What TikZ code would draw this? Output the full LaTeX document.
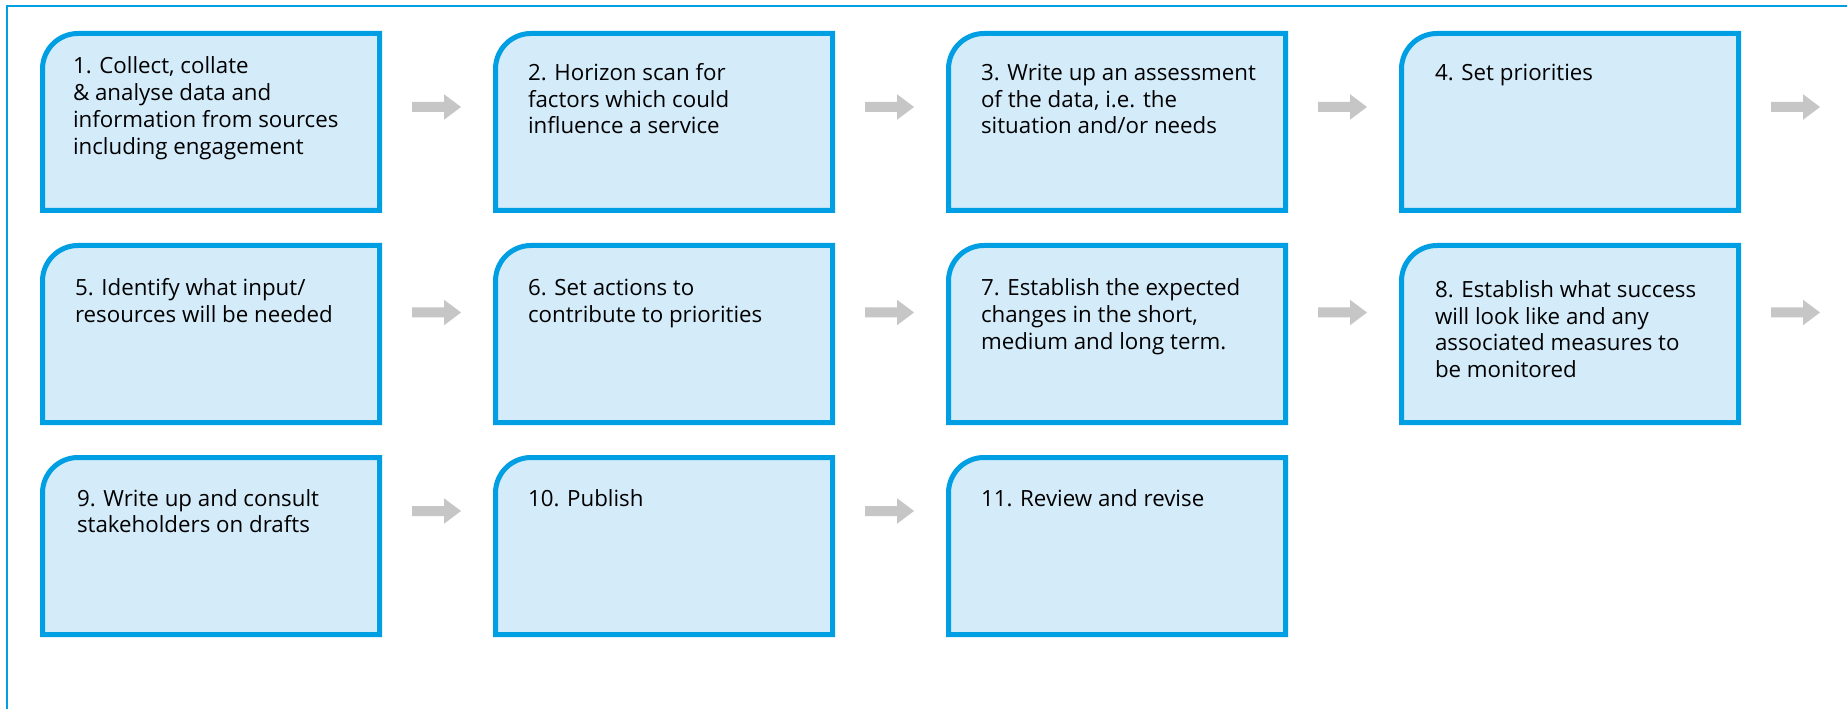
\documentclass[tikz,border=0pt]{standalone}
\usepackage{fontspec}
\setmainfont{Open Sans}
\definecolor{bblue}{HTML}{009FE3}
\definecolor{bfill}{HTML}{D4EBFA}
\definecolor{agrey}{HTML}{C6C6C6}
\begin{document}
\begin{tikzpicture}[x=0.5pt,y=0.5pt,
  boxnode/.style={draw=none,inner sep=0pt,outer sep=0pt,minimum width=168.5pt,minimum height=88.5pt},
  boxline/.style={draw=bblue,fill=bfill,line width=2.5pt},
  frameline/.style={draw=bblue,line width=1pt},
  arrowc/.style={fill=agrey},
  txt/.style={inner sep=0pt,outer sep=0pt,anchor=base west,font=\fontsize{11.15}{13.35}\selectfont}]
\useasboundingbox (0,0) rectangle (1847,708);
\clip (0,0) rectangle (1847,708);
\fill[white] (0,0) rectangle (1847,708);
\draw[frameline] (7,-50) -- (7,702) -- (1900,702);

% boxes
\foreach \n/\x/\y in {1/211/586,2/664/586,3/1117/586,4/1570/586,
                      5/211/374,6/664/374,7/1117/374,8/1570/374,
                      9/211/162,10/664/162,11/1117/162}{
  \node[boxnode] (b\n) at (\x,\y) {};
  \draw[boxline] (b\n.south west) -- ([yshift=-17.75pt]b\n.north west)
     arc[start angle=180,end angle=90,radius=17.75pt] -- (b\n.north east)
     -- (b\n.south east) -- cycle;
}

% texts
\newcommand\bt[1]{\parbox[t]{300pt}{\raggedright #1}}
\node[txt] (t1) at ([xshift=15.25pt,yshift=-20.25pt]b1.north west) {\bt{1. Collect, collate\\\& analyse data and\\information from sources\\including engagement}};
\node[txt] (t2) at ([xshift=16.25pt,yshift=-23.5pt]b2.north west) {\bt{2. Horizon scan for\\factors which could\\influence a service}};
\node[txt] (t3) at ([xshift=16.25pt,yshift=-23.5pt]b3.north west) {\bt{3. Write up an assessment\\of the data, i.e. the\\situation and/or needs}};
\node[txt] (t4) at ([xshift=16.75pt,yshift=-23.5pt]b4.north west) {\bt{4. Set priorities}};
\node[txt] (t5) at ([xshift=16.25pt,yshift=-25.25pt]b5.north west) {\bt{5. Identify what input/\\resources will be needed}};
\node[txt] (t6) at ([xshift=16.25pt,yshift=-25.25pt]b6.north west) {\bt{6. Set actions to\\contribute to priorities}};
\node[txt] (t7) at ([xshift=16.25pt,yshift=-25.25pt]b7.north west) {\bt{7. Establish the expected\\changes in the short,\\medium and long term.}};
\node[txt] (t8) at ([xshift=16.75pt,yshift=-26pt]b8.north west) {\bt{8. Establish what success\\will look like and any\\associated measures to\\be monitored}};
\node[txt] (t9) at ([xshift=17.25pt,yshift=-24.25pt]b9.north west) {\bt{9. Write up and consult\\stakeholders on drafts}};
\node[txt] (t10) at ([xshift=16.25pt,yshift=-24.25pt]b10.north west) {\bt{10. Publish}};
\node[txt] (t11) at ([xshift=16.25pt,yshift=-24.25pt]b11.north west) {\bt{11. Review and revise}};

% arrows
\foreach \n/\dy in {1/7.5pt,2/7.5pt,3/7.5pt,4/7.5pt,5/10.75pt,6/10.75pt,7/10.75pt,8/10.75pt,9/17.5pt,10/17.5pt}{
  \coordinate (a\n) at ([xshift=16.25pt,yshift=\dy]b\n.east);
  \fill[arrowc,shift={(a\n)}] (0,5) -- (32,5) -- (32,12.8) -- (49,0)
     -- (32,-12.8) -- (32,-5) -- (0,-5) -- cycle;
}
\end{tikzpicture}
\end{document}
